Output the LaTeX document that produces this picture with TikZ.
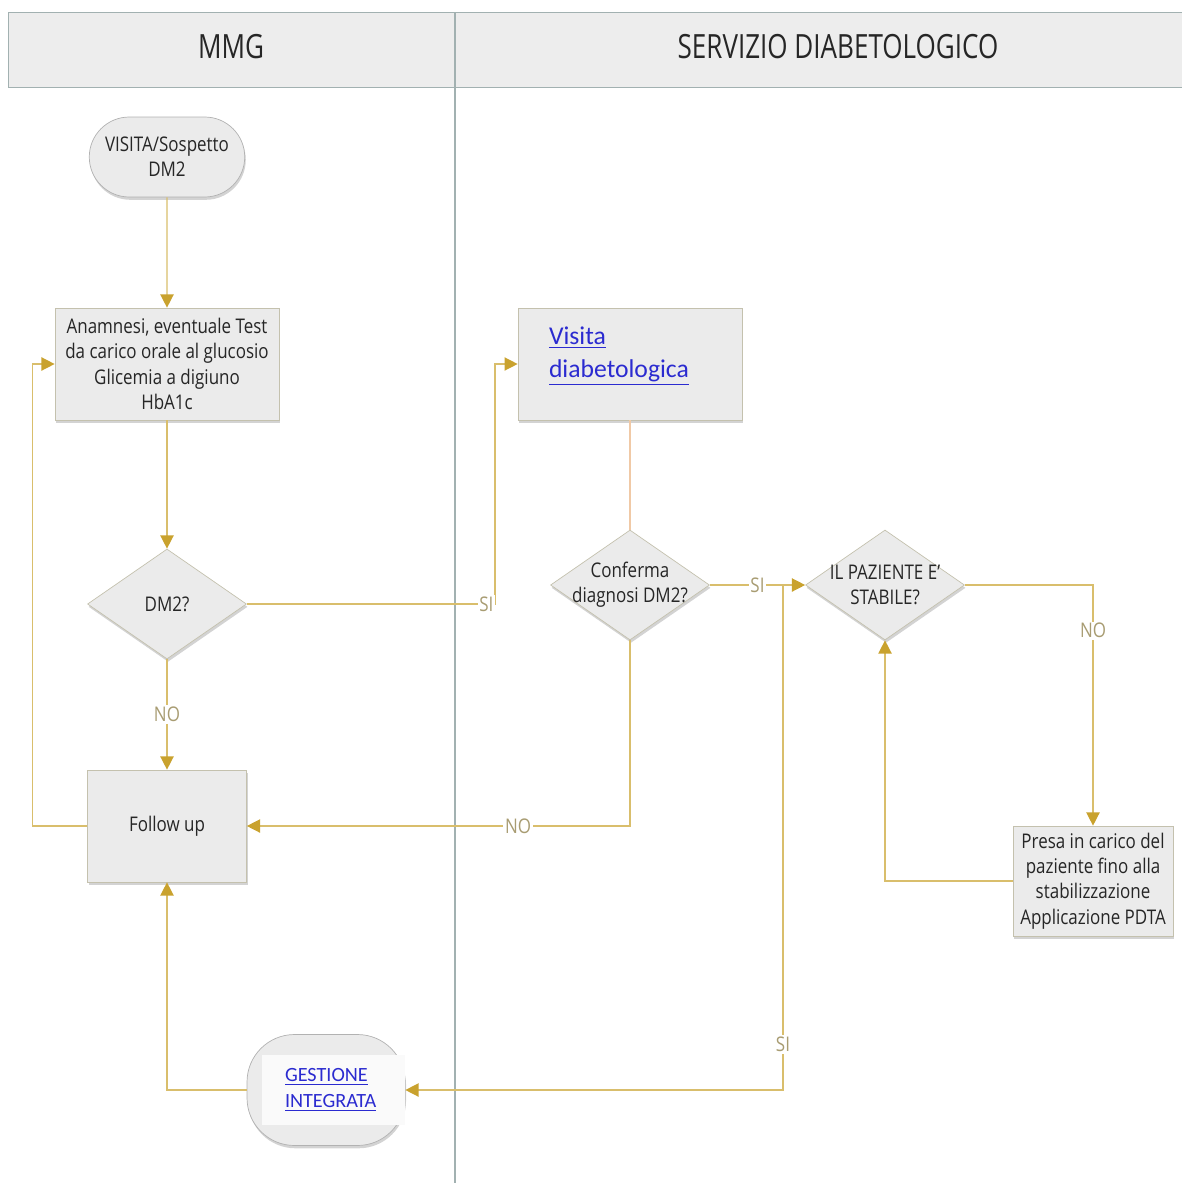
\documentclass[tikz,border=0pt]{standalone}
\usepackage{fontspec}
\setmainfont{Open Sans}[FakeStretch=0.84]
\newfontfamily\headfont{Open Sans}[FakeStretch=0.78]
\newfontfamily\linkfont{Carlito}
\usepackage{tikz}
\usetikzlibrary{arrows.meta, positioning, shapes.geometric, shapes.misc, shadows}

\definecolor{laneline}{HTML}{A2B1B1}
\definecolor{headfill}{HTML}{EDEDED}
\definecolor{boxfill}{HTML}{EBEBEB}
\definecolor{boxline}{HTML}{C4C1AE}
\definecolor{flowgold}{HTML}{D9BE6C}
\definecolor{tipgold}{HTML}{C9A22E}
\definecolor{flowpeach}{HTML}{F0C9A6}
\definecolor{lblgold}{HTML}{A89C72}
\definecolor{linkblue}{HTML}{2B2BD0}

\tikzset{
    shade/.style={drop shadow={shadow xshift=0.6pt, shadow yshift=-1.6pt, opacity=0.35}},
    box/.style={rectangle, draw=boxline, fill=boxfill, shade, align=center, inner sep=1pt},
    term/.style={rounded rectangle, draw=gray!60, fill=boxfill, shade, align=center, inner sep=1pt},
    dia/.style={diamond, draw=boxline, fill=boxfill, shade, minimum width=3.18cm, minimum height=2.2cm, inner sep=0pt},
    diatext/.style={align=center, inner sep=0pt},
    flow/.style={draw=flowgold, line width=0.8pt, -{Triangle[length=7.5pt,width=7.5pt,color=tipgold]}},
    lbl/.style={text=lblgold, fill=white, inner sep=1pt},
    lanetitle/.style={font=\headfont\fontsize{19}{22}\selectfont, text=black!85},
    linktext/.style={text=linkblue, align=left, inner sep=0pt},
}

\begin{document}
\begin{tikzpicture}[x=0.02cm, y=-0.02cm, font=\fontsize{11.5}{14.4}\selectfont, text=black!85]
    \useasboundingbox (0,0) rectangle (1182,1183);

    % swimlanes
    \fill[headfill] (8,12) rectangle (1182,87);
    \draw[laneline] (8,12) -- (1182,12) (8,87) -- (1182,87) (8,12) -- (8,87);
    \draw[laneline, line width=0.6pt] (455,12) -- (455,1183);
    \node[lanetitle] (hmmg) at (231,47) {MMG};
    \node[lanetitle] (hserv) at (838,47) {SERVIZIO DIABETOLOGICO};

    % MMG lane
    \node[term, minimum width=3.18cm, minimum height=1.6cm] (start) at (167,157) {VISITA/Sospetto\\DM2};
    \node[box, minimum width=4.48cm, minimum height=2.24cm] (ana) at (167,364)
        {Anamnesi, eventuale Test\\da carico orale al glucosio\\Glicemia a digiuno\\HbA1c};
    \node[dia, label={[diatext]center:DM2?}] (dm2) at (167,604) {};
    \node[box, minimum width=3.18cm, minimum height=2.24cm] (fu) at (167,826) {Follow up};
    \node[rectangle, rounded corners=0.95cm, draw=gray!60, fill=boxfill, shade,
          minimum width=3.16cm, minimum height=2.22cm,
          label={[linktext, anchor=east, fill=white!96!gray, minimum width=2.86cm, minimum height=1.4cm,
                  inner xsep=0.46cm, text width=1.94cm,
                  font=\linkfont\fontsize{11.5}{14.7}\selectfont]
                 east:\underline{GESTIONE}\\\underline{INTEGRATA}}] (gest) at (326,1090) {};

    % servizio lane
    \node[box, minimum width=4.48cm, minimum height=2.24cm,
          label={[linktext, text width=3.24cm, yshift=0.16cm, font=\linkfont\fontsize{14.6}{18.7}\selectfont]
                 center:\underline{Visita}\\\underline{diabetologica}}] (vis) at (630,364) {};
    \node[dia, label={[diatext]center:Conferma\\diagnosi DM2?}] (conf) at (630,585) {};
    \node[dia, label={[diatext]center:IL PAZIENTE E'\\STABILE?}] (stab) at (885,585) {};
    \node[box, minimum width=3.2cm, minimum height=2.2cm] (presa) at (1093,881)
        {Presa in carico del\\paziente fino alla\\stabilizzazione\\Applicazione PDTA};

    \coordinate (siup) at (495,604);
    \coordinate (jn) at (783,585);

    % connectors
    \draw[flow] (start) -- (ana);
    \draw[flow] (ana) -- (dm2);
    \draw[flow] (dm2) -- node[lbl, pos=0.5]{NO} (fu);
    \draw[flow] (fu.west) -| ([xshift=-0.44cm]ana.west) -- (ana.west);
    \draw[flow] (dm2.east) -- node[lbl, pos=0.965]{SI} (siup) |- (vis.west);
    \draw[draw=flowpeach, line width=0.8pt] (vis.south) -- (conf.north);
    \draw[flow] (conf.east) -- node[lbl, pos=0.5]{SI} (stab.west);
    \draw[flow] (conf.south) |- node[lbl, pos=0.646]{NO} (fu.east);
    \draw[flow] (stab.east) -| node[lbl, pos=0.595]{NO} (presa.north);
    \draw[flow] (presa.west) -| (stab.south);
    \draw[flow] (jn) |- node[lbl, pos=0.455]{SI} (gest.east);
    \draw[flow] (gest.west) -| (fu.south);
\end{tikzpicture}
\end{document}
